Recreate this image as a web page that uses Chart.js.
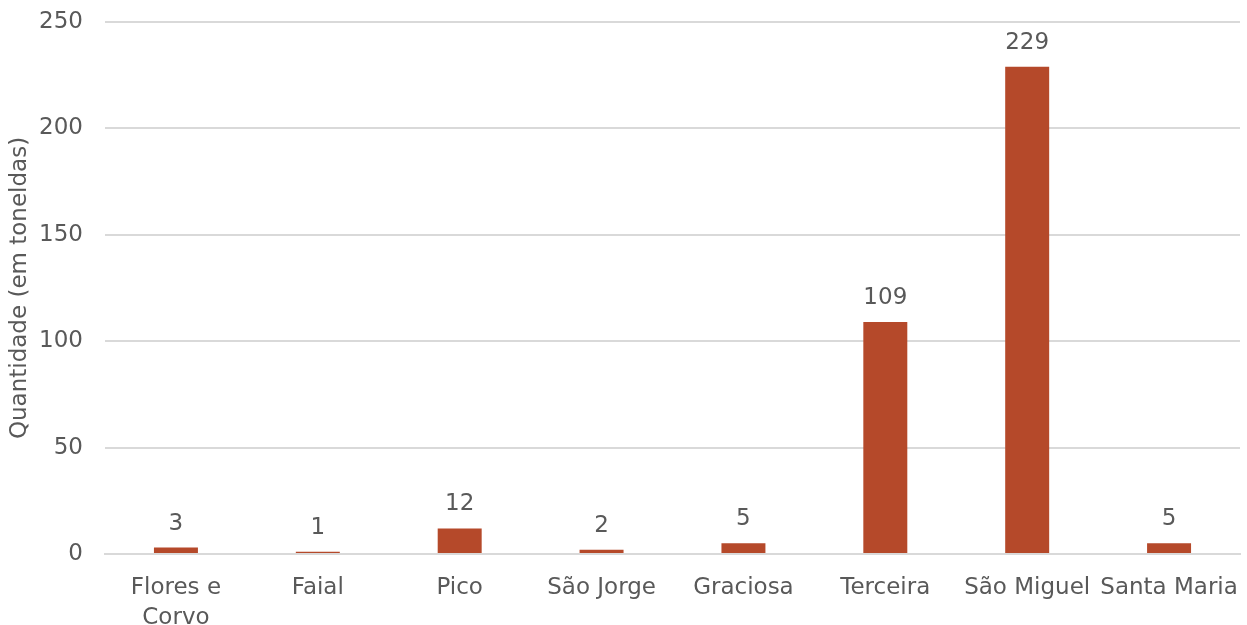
<!DOCTYPE html>
<html>
<head>
<meta charset="utf-8">
<script src="https://cdn.jsdelivr.net/npm/chart.js@4/dist/chart.umd.min.js"></script>
<style>
  html, body { margin: 0; padding: 0; background: #ffffff; }
  #wrap { width: 1247px; height: 625px; }
</style>
</head>
<body>
<div id="wrap"><canvas id="myChart" width="1247" height="625"></canvas></div>
<script>
const islands = [["Flores e", "Corvo"], "Faial", "Pico", "São Jorge", "Graciosa", "Terceira", "São Miguel", "Santa Maria"];
const tonnes = [3, 1, 12, 2, 5, 109, 229, 5];
const yTicks = [0, 50, 100, 150, 200, 250];

const fontFamily = "'DejaVu Sans', sans-serif";
const textColor = "#595959";

// Draw value labels above each bar
const valueLabels = {
    id: 'valueLabels',
    afterDatasetsDraw(chart) {
        const ctx = chart.ctx;
        const meta = chart.getDatasetMeta(0);
        ctx.save();
        ctx.font = "23px " + fontFamily;
        ctx.fillStyle = textColor;
        ctx.textAlign = "center";
        ctx.textBaseline = "alphabetic";
        meta.data.forEach((bar, i) => {
            ctx.fillText(String(tonnes[i]), bar.x, bar.y - 18);
        });
        ctx.restore();
    }
};

const ctx = document.getElementById("myChart").getContext("2d");
new Chart(ctx, {
    type: "bar",
    data: {
        labels: islands,
        datasets: [{
            label: "Quantidade",
            data: tonnes,
            backgroundColor: "#B5492A",
            borderWidth: 0,
            barPercentage: 0.31,
            categoryPercentage: 1.0,
        }],
    },
    options: {
        responsive: false,
        animation: false,
        layout: { padding: { top: 22, right: 7, left: 6, bottom: 0 } },
        plugins: {
            legend: { display: false },
            tooltip: { enabled: false },
        },
        scales: {
            x: {
                grid: { display: false },
                border: { color: "#d9d9d9", width: 2 },
                ticks: {
                    color: textColor,
                    font: { family: fontFamily, size: 23, lineHeight: 1.3 },
                    maxRotation: 0,
                    autoSkip: false,
                    padding: 11,
                },
                afterFit: (axis) => {
                    axis.height = 71;
                    axis.paddingLeft = 0;
                    axis.paddingRight = 0;
                },
            },
            y: {
                min: 0,
                max: 250,
                afterBuildTicks: (axis) => { axis.ticks = yTicks.map(v => ({ value: v })); },
                grid: { color: "#d9d9d9", lineWidth: 2, drawTicks: false },
                border: { display: false },
                ticks: {
                    color: textColor,
                    font: { family: fontFamily, size: 23 },
                    padding: 22,
                },
                title: {
                    display: true,
                    text: "Quantidade (em toneldas)",
                    color: textColor,
                    font: { family: fontFamily, size: 23 },
                    padding: { top: 0, bottom: 8 },
                },
                afterFit: (axis) => {
                    axis.width = 99;
                    axis.paddingTop = 0;
                    axis.paddingBottom = 0;
                },
            },
        },
    },
    plugins: [valueLabels],
});
</script>
</body>
</html>
